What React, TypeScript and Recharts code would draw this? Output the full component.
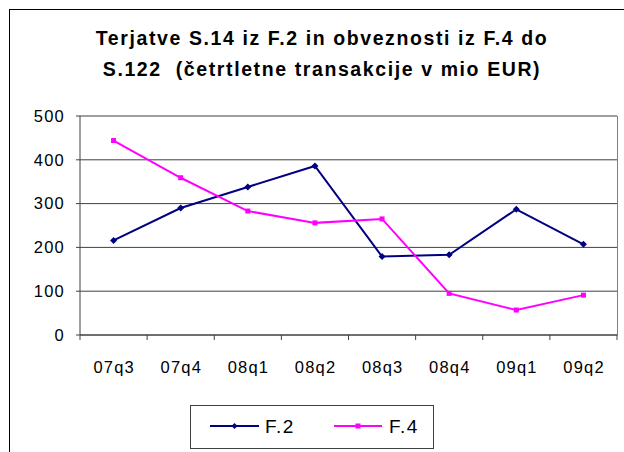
import { LineChart, Line, XAxis, YAxis, CartesianGrid } from 'recharts';

const quarters = ['07q3', '07q4', '08q1', '08q2', '08q3', '08q4', '09q1', '09q2'];
const f2Values = [216, 290, 338, 386, 179, 183, 287, 207];
const f4Values = [444, 359, 283, 256, 265, 95, 57, 91];
const yTicks = [0, 100, 200, 300, 400, 500];

const data = quarters.map((q, i) => ({ q, f2: f2Values[i], f4: f4Values[i] }));

const FONT = '"Liberation Sans", Arial, sans-serif';
const HALF_STEP = 537 / 16;

const DiamondDot = (props: any) => {
  const { cx, cy } = props;
  return <path d={`M${cx},${cy - 3.5}L${cx + 3.5},${cy}L${cx},${cy + 3.5}L${cx - 3.5},${cy}Z`} fill="#000080" />;
};

const SquareDot = (props: any) => {
  const { cx, cy } = props;
  return <rect x={cx - 2.5} y={cy - 2.5} width={5} height={5} fill="#FF00FF" />;
};

// category ticks sit between the quarters, like in Excel
const XTick = (props: any) => {
  const { x, y, payload, index } = props;
  const axisY = y - 8;
  return (
    <g>
      <line x1={x - HALF_STEP} y1={axisY} x2={x - HALF_STEP} y2={axisY + 5} stroke="#404040" />
      {index === quarters.length - 1 && (
        <line x1={x + HALF_STEP} y1={axisY} x2={x + HALF_STEP} y2={axisY + 5} stroke="#404040" />
      )}
      <text x={x + 0.6} y={y + 30} textAnchor="middle" fontSize={16.5} letterSpacing={1.2} fontFamily={FONT} fill="#000">
        {payload.value}
      </text>
    </g>
  );
};

const LegendBox = () => (
  <div
    style={{
      position: 'absolute',
      left: 190,
      top: 405,
      width: 244,
      height: 44,
      border: '1px solid #404040',
      boxSizing: 'border-box',
      background: '#fff',
    }}
  >
    <svg width={244} height={44} style={{ position: 'absolute', left: -1, top: -1 }}>
      <line x1={20} y1={21} x2={69} y2={21} stroke="#000080" strokeWidth={2} />
      <path d="M44.5,18L47.5,21L44.5,24L41.5,21Z" fill="#000080" />
      <text x={75} y={28} fontSize={19} letterSpacing={1.5} fontFamily={FONT}>F.2</text>
      <line x1={144} y1={21} x2={192} y2={21} stroke="#FF00FF" strokeWidth={2} />
      <rect x={165.5} y={18.5} width={5} height={5} fill="#FF00FF" />
      <text x={199} y={28} fontSize={19} letterSpacing={1.5} fontFamily={FONT}>F.4</text>
    </svg>
  </div>
);

const App = () => {
  return (
    <div style={{ position: 'absolute', left: 0, top: 0, width: 624, height: 452, background: '#fff', overflow: 'hidden' }}>
      <div
        style={{
          position: 'absolute',
          left: 9,
          top: 9,
          width: 700,
          height: 600,
          borderLeft: '1px solid #000',
          borderTop: '1px solid #000',
        }}
      />
      <div
        style={{
          position: 'absolute',
          left: 0,
          top: 23,
          width: 644,
          textAlign: 'center',
          fontFamily: FONT,
          fontWeight: 'bold',
          fontSize: 19.5,
          letterSpacing: 1.6,
          lineHeight: '31px',
        }}
      >
        Terjatve S.14 iz F.2 in obveznosti iz F.4 do
        <br />
        S.122&nbsp; (četrtletne transakcije v mio EUR)
      </div>
      <div style={{ position: 'absolute', left: 0, top: 0 }}>
        <LineChart width={624} height={452} data={data} margin={{ top: 116, right: 7, bottom: 87, left: 0 }}>
          <CartesianGrid vertical={false} stroke="#404040" strokeWidth={1} />
          <XAxis
            dataKey="q"
            tickLine={false}
            tick={<XTick />}
            interval={0}
            stroke="#404040"
            height={30}
            padding={{ left: HALF_STEP, right: HALF_STEP }}
          />
          <YAxis
            domain={[0, 500]}
            ticks={yTicks}
            width={80}
            tickSize={4}
            tickMargin={11}
            stroke="#404040"
            tick={{ fontSize: 16.5, fontFamily: FONT, fill: '#000', letterSpacing: 1.2 }}
          />
          <Line dataKey="f2" stroke="#000080" strokeWidth={2} dot={<DiamondDot />} isAnimationActive={false} />
          <Line dataKey="f4" stroke="#FF00FF" strokeWidth={2} dot={<SquareDot />} isAnimationActive={false} />
        </LineChart>
      </div>
      <div style={{ position: 'absolute', left: 617, top: 116, width: 1, height: 220, background: '#808080' }} />
      <LegendBox />
    </div>
  );
};

export default App;
